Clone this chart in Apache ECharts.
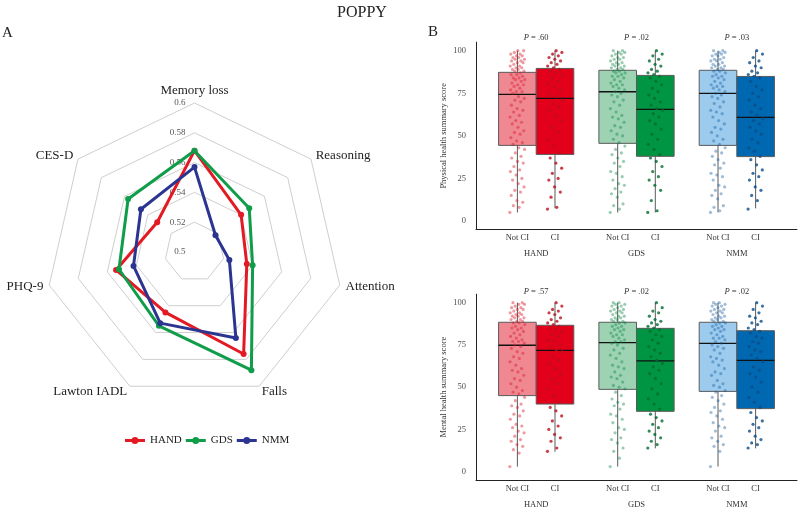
<!DOCTYPE html>
<html><head><meta charset="utf-8">
<script src="https://cdn.jsdelivr.net/npm/echarts@6/dist/echarts.min.js"></script>
<style>html,body{margin:0;padding:0;background:#fff}#c{width:798px;height:510px}</style>
</head><body><div id="c"></div>
<script>
const FONT = '"Liberation Serif", "DejaVu Serif", serif';

// ---------- Panel A: radar ----------
const radarIndicators = ['Memory loss', 'CES-D', 'PHQ-9', 'Lawton IADL', 'Falls', 'Attention', 'Reasoning'];
const radarMin = 0.5, radarMax = 0.6;
const radarNames = ['HAND', 'GDS', 'NMM'];
const handValues = [0.568, 0.532, 0.554, 0.545, 0.576, 0.536, 0.540];
const gdsValues  = [0.568, 0.557, 0.552, 0.555, 0.588, 0.540, 0.547];
const nmmValues  = [0.557, 0.546, 0.542, 0.553, 0.564, 0.524, 0.518];
const radarColors = ['#e31a23', '#0f9d4a', '#2b3591'];

// ---------- Panel B: box plots ----------
const groups = ['HAND', 'GDS', 'NMM'];
const subgroups = ['Not CI', 'CI'];
const physP = ['.60', '.02', '.03'];
const mentP = ['.57', '.02', '.02'];
// [min, Q1, median, Q3, max]: HAND NotCI, HAND CI, GDS NotCI, GDS CI, NMM NotCI, NMM CI
const physBoxes = [[5,44.4,74.4,87.3,100],[7.4,39.1,72,89.6,100],[5,45.6,75.9,88.5,100],[5,38,65.6,85.5,100],[5,44.4,75,88.5,100],[7.4,37.8,60.9,84.9,100]];
const mentBoxes = [[3,45,74.8,88.4,100],[11.8,40,71.8,86.6,100],[3,48.7,76.3,88.4,100],[13.8,35.7,65.5,84.8,100],[3,47.5,75.9,88.4,100],[13.8,37.3,65.9,83.4,100]];

const physHandNot = [5,8,9,11,12,15,17,18,20,22,24,25,27,29,30,32,34,35,37,38,40,42,43, 45,46,47,49,51,52,53,55,57,58,59,61,62,64,65,66,68,70,71,72,73, 75,76,76,77,78,79,80,80,81,82,83,83,84,84,85,86,86,87, 88,88,89,89,90,90,91,91,92,93,93,94,94,95,95,96,96,97,97,98,98,99,100,100];
const physHandCI  = [7,8,14,17,20,24,25,28,31,34,37, 40,44,48,52,55,59,62,65,67,69,71, 73,75,77,79,81,82,84,86,87,88,89, 90,91,92,93,94,95,96,97,98,99,100];
const physGdsNot  = [5,7,9,10,14,16,17,19,21,22,24,26,28,29,32,34,35,37,39,40,42,44, 46,48,50,51,53,55,56,58,60,61,62,64,66,68,70,71,73,74,75, 76,77,78,79,80,80,81,82,83,84,85,85,86,87,87,88,88, 89,89,90,90,91,91,92,92,93,93,94,95,95,96,96,97,98,98,99,99,100,100];
const physGdsCI   = [5,6,12,18,21,24,26,29,32,35,37, 39,42,45,48,51,54,57,59,61,63,65, 66,68,70,72,74,76,78,80,82,84,85, 86,87,88,89,91,92,94,95,97,98,100];
const physNmmNot  = [5,6,8,9,13,15,16,18,20,21,24,26,27,28,31,33,34,36,38,40,41,43, 45,47,48,50,52,54,55,57,59,61,63,64,65,67,69,70,72,73,74, 75,76,77,78,79,79,80,81,82,83,84,85,85,86,87,88,88, 89,89,90,90,91,91,92,92,93,94,94,95,95,96,97,97,98,98,99,99,100,100];
const physNmmCI   = [7,12,15,18,20,24,26,28,30,33,36, 38,41,43,46,48,51,53,55,57,59,60, 62,64,66,68,71,73,75,77,79,82,84, 85,86,87,88,90,91,93,94,96,98,100];

const mentHandNot = [3,11,13,15,16,18,19,21,23,24,26,27,28,31,33,34,36,38,39,40,42,44, 46,47,48,50,52,54,55,57,59,60,61,63,65,67,68,70,71,73,74, 75,76,77,77,78,79,80,81,82,83,84,85,85,86,87,88,88, 89,89,90,90,91,91,92,92,93,93,94,94,95,96,96,97,97,98,99,99,100,100];
const mentHandCI  = [12,14,18,20,22,25,27,30,33,36,38, 41,45,49,52,55,58,61,64,66,68,71, 72,74,75,77,78,80,81,83,84,85,86, 87,88,89,90,91,93,94,95,96,98,100];
const mentGdsNot  = [3,8,12,14,17,19,20,23,25,26,29,31,33,34,37,39,40,41,43,45,47, 49,50,51,53,55,56,57,59,61,62,63,65,67,69,70,72,73,75,76, 77,77,78,79,80,81,81,82,83,84,84,85,86,86,87,88,88, 89,89,90,90,91,91,92,92,93,94,94,95,95,96,96,97,98,98,99,99,100,100];
const mentGdsCI   = [14,16,18,20,22,24,26,28,30,32,34, 37,40,43,46,49,52,55,58,60,62,64, 66,68,70,72,74,76,78,80,81,83,84, 85,86,87,88,89,90,92,94,95,97,100];
const mentNmmNot  = [3,12,15,16,18,20,21,24,26,27,29,31,33,35,36,38,40,42,44,45,47, 48,50,51,52,54,57,58,59,61,63,65,66,67,68,70,72,73,74,75, 76,77,78,79,79,80,81,82,83,84,84,85,86,86,87,88,88, 89,89,90,90,91,91,92,92,93,94,94,95,95,96,96,97,98,98,99,99,100,100];
const mentNmmCI   = [14,16,17,19,21,24,26,28,30,32,35, 38,41,44,47,50,53,56,58,60,62,65, 67,69,71,72,74,76,77,79,80,82,83, 84,85,87,88,89,91,92,94,96,98,100];

const physPoints = [physHandNot, physHandCI, physGdsNot, physGdsCI, physNmmNot, physNmmCI];
const mentPoints = [mentHandNot, mentHandCI, mentGdsNot, mentGdsCI, mentNmmNot, mentNmmCI];

const boxFill  = ['#f08892', '#e3001b', '#9dd3b3', '#009542', '#9ccbee', '#0067b1'];
const dotColor = ['rgba(215,25,40,0.55)', '#b8101c', 'rgba(0,130,60,0.5)', '#006d30', 'rgba(15,90,160,0.5)', '#0a4d8a'];

const BOX_W = 0.375;
function boxX(i) { return Math.floor(i / 2) + 1 + (i % 2 === 0 ? -BOX_W / 2 : BOX_W / 2); }
function jitter(k) { return (((k * 0.6180339887) % 1) - 0.5) * 0.15; }
const subCenters = [0, 1, 2, 3, 4, 5].map(boxX);

function boxSeries(stats, xIdx, yIdx) {
  return {
    type: 'custom', xAxisIndex: xIdx, yAxisIndex: yIdx, z: 2, silent: true,
    encode: { x: 0, y: [1, 2, 3, 4, 5] },
    data: stats.map((s, i) => [boxX(i), s[0], s[1], s[2], s[3], s[4], i]),
    renderItem: function (params, api) {
      const x = api.value(0);
      const i = api.value(6);
      const pMin = api.coord([x, api.value(1)]);
      const pQ1 = api.coord([x, api.value(2)]);
      const pMed = api.coord([x, api.value(3)]);
      const pQ3 = api.coord([x, api.value(4)]);
      const pMax = api.coord([x, api.value(5)]);
      const hw = api.size([BOX_W, 0])[0] / 2;
      return {
        type: 'group',
        children: [
          { type: 'line', shape: { x1: pMin[0], y1: pMin[1], x2: pMax[0], y2: pMax[1] }, style: { stroke: '#5a5a5a', lineWidth: 1 } },
          { type: 'rect', shape: { x: pQ3[0] - hw, y: pQ3[1], width: hw * 2, height: pQ1[1] - pQ3[1] }, style: { fill: boxFill[i], stroke: '#5a5a5a', lineWidth: 1 } },
          { type: 'line', shape: { x1: pMed[0] - hw, y1: pMed[1], x2: pMed[0] + hw, y2: pMed[1] }, style: { stroke: '#111', lineWidth: 1.3 } }
        ]
      };
    }
  };
}
function pointSeries(lists, xIdx, yIdx) {
  return lists.map((arr, i) => ({
    type: 'scatter', xAxisIndex: xIdx, yAxisIndex: yIdx, z: 3, silent: true,
    symbolSize: 3.2, itemStyle: { color: dotColor[i] },
    data: arr.map((v, k) => [boxX(i) + jitter(k), v])
  }));
}
const txt = { fontFamily: FONT, fontSize: 8.5, color: '#333' };
function xAxesFor(gridIndex, pvals, pMargin) {
  return [
    { gridIndex, type: 'value', min: 0.4, max: 3.6, position: 'bottom',
      axisLine: { show: true, onZero: false, lineStyle: { color: '#222', width: 1 } },
      axisTick: { show: false }, splitLine: { show: false },
      axisLabel: Object.assign({ customValues: subCenters, margin: 4,
        formatter: v => subgroups[(v - Math.floor(v)) > 0.5 ? 0 : 1] }, txt) },
    { gridIndex, type: 'value', min: 0.4, max: 3.6, position: 'bottom', offset: 16,
      axisLine: { show: false }, axisTick: { show: false }, splitLine: { show: false },
      axisLabel: Object.assign({ customValues: [1, 2, 3], margin: 4, formatter: v => groups[v - 1] }, txt) },
    { gridIndex, type: 'value', min: 0.4, max: 3.6, position: 'top',
      axisLine: { show: false }, axisTick: { show: false }, splitLine: { show: false },
      axisLabel: Object.assign({ customValues: [1, 2, 3], margin: pMargin,
        formatter: v => '{i|P} = ' + pvals[v - 1],
        rich: { i: { fontFamily: FONT, fontSize: 8.5, fontStyle: 'italic', color: '#333' } } }, txt) }
  ];
}
function yAxisFor(gridIndex, name) {
  return { gridIndex, type: 'value', min: -5, max: 105,
    axisLine: { show: true, onZero: false, lineStyle: { color: '#222', width: 1 } },
    axisTick: { show: false }, splitLine: { show: false },
    axisLabel: Object.assign({ customValues: [0, 25, 50, 75, 100], margin: 10 }, txt, { color: '#4d4d4d' }),
    name: name, nameLocation: 'middle', nameGap: 28, nameTextStyle: Object.assign({}, txt) };
}

const legendIcon = 'path://M0,2.6H20V5.4H0Z M10,0.5A3.5,3.5 0 1 1 9.99,0.5Z';

const chart = echarts.init(document.getElementById('c'), null, { renderer: 'canvas' });
chart.setOption({
  animation: false,
  backgroundColor: '#fff',
  textStyle: { fontFamily: FONT },
  graphic: [
    { type: 'text', x: 362, y: 13, style: { text: 'POPPY', font: '16px ' + FONT, fill: '#222', textAlign: 'center', textVerticalAlign: 'middle' } },
    { type: 'text', x: 2, y: 33, style: { text: 'A', font: '15px ' + FONT, fill: '#222', textAlign: 'left', textVerticalAlign: 'middle' } },
    { type: 'text', x: 428, y: 32, style: { text: 'B', font: '15px ' + FONT, fill: '#222', textAlign: 'left', textVerticalAlign: 'middle' } }
  ],
  legend: {
    data: radarNames, left: 120, top: 430, itemWidth: 20, itemHeight: 8, itemGap: 4,
    icon: legendIcon, textStyle: { fontFamily: FONT, fontSize: 11, color: '#222' }
  },
  radar: {
    center: [194.5, 252], radius: 149, shape: 'polygon', splitNumber: 5, startAngle: 90,
    nameGap: 6,
    axisName: { color: '#222', fontFamily: FONT, fontSize: 13 },
    axisLine: { show: false }, axisTick: { show: false },
    splitArea: { show: false },
    splitLine: { lineStyle: { color: '#cfcfcf', width: 1 } },
    axisLabel: { show: false, fontFamily: FONT, fontSize: 9, color: '#555', margin: 9,
      formatter: v => String(Math.round(v * 100) / 100) },
    indicator: radarIndicators.map((n, i) => i === 0
      ? { name: n, min: radarMin, max: radarMax, axisLabel: { show: true } }
      : { name: n, min: radarMin, max: radarMax })
  },
  grid: [
    { left: 476, top: 42.2, width: 321, height: 187.3 },
    { left: 476, top: 294.2, width: 321, height: 185.9 }
  ],
  xAxis: [].concat(xAxesFor(0, physP, 0), xAxesFor(1, mentP, -2)),
  yAxis: [yAxisFor(0, 'Physical health summary score'), yAxisFor(1, 'Mental health summary score')],
  series: [
    {
      type: 'radar', symbol: 'circle', symbolSize: 6,
      data: [handValues, gdsValues, nmmValues].map((vals, i) => ({
        name: radarNames[i], value: vals,
        itemStyle: { color: radarColors[i] },
        lineStyle: { color: radarColors[i], width: 3 }
      }))
    },
    boxSeries(physBoxes, 0, 0),
    boxSeries(mentBoxes, 3, 1)
  ].concat(pointSeries(physPoints, 0, 0), pointSeries(mentPoints, 3, 1))
});
</script></body></html>
